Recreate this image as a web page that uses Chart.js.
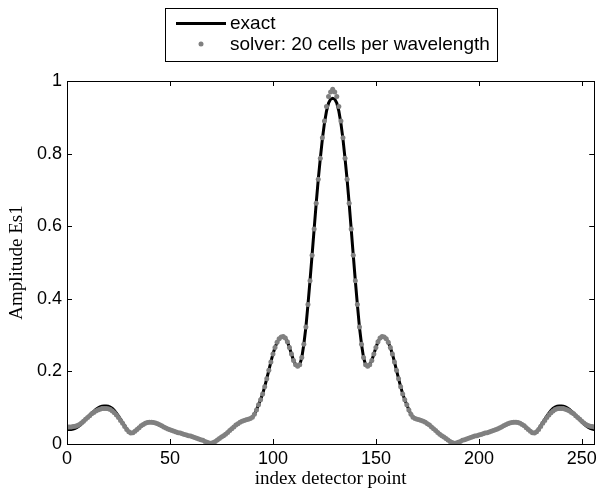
<!DOCTYPE html>
<html>
<head>
<meta charset="utf-8">
<script src="https://cdn.jsdelivr.net/npm/chart.js@4.4.1/dist/chart.umd.min.js"></script>
<style>
  html, body { margin: 0; padding: 0; background: #fff; }
  #wrap { width: 601px; height: 499px; }
</style>
</head>
<body>
<div id="wrap"><canvas id="amplitudeChart" width="601" height="499"></canvas></div>
<script>
// =============================================================================
// Amplitude Es1 along the detector line: exact vs solver (20 cells/wavelength)
// =============================================================================

// Axis ticks
const xTicks = [0, 50, 100, 150, 200, 250];
const yTicks = [0, 0.2, 0.4, 0.6, 0.8, 1];

// Solver samples, one per detector index 0..256
const solverValues = [
    .047, .047, .047, .048, .049, .051, .054, .058, .063, .068,
    .073, .078, .083, .087, .091, .094, .096, .098, .098, .098,
    .097, .095, .091, .086, .080, .073, .065, .057, .048, .040,
    .034, .030, .031, .035, .040, .045, .050, .054, .057, .059,
    .060, .060, .059, .058, .056, .053, .050, .047, .044, .041,
    .039, .037, .035, .033, .031, .030, .028, .026, .025, .023,
    .022, .020, .018, .016, .014, .012, .010, .007, .005, .003,
    .002, .004, .007, .011, .015, .019, .023, .027, .032, .037,
    .042, .047, .052, .056, .060, .063, .065, .067, .068, .070,
    .074, .082, .094, .108, .122, .138, .158, .180, .203, .226,
    .248, .266, .280, .290, .295, .296, .292, .282, .266, .248,
    .230, .218, .214, .218, .238, .275, .322, .384, .450, .520,
    .592, .663, .729, .787, .844, .890, .930, .957, .970, .977,
    .970, .957, .930, .890, .844, .787, .729, .663, .592, .520,
    .450, .384, .322, .275, .238, .218, .214, .218, .230, .248,
    .266, .282, .292, .296, .295, .290, .280, .266, .248, .226,
    .203, .180, .158, .138, .122, .108, .094, .082, .074, .070,
    .068, .067, .065, .063, .060, .056, .052, .047, .042, .037,
    .032, .027, .023, .019, .015, .011, .007, .004, .002, .003,
    .005, .007, .010, .012, .014, .016, .018, .020, .022, .023,
    .025, .026, .028, .030, .031, .033, .035, .037, .039, .041,
    .044, .047, .050, .053, .056, .058, .059, .060, .060, .059,
    .057, .054, .050, .045, .040, .035, .031, .030, .034, .040,
    .048, .057, .065, .073, .080, .086, .091, .095, .097, .098,
    .098, .098, .096, .094, .091, .087, .083, .078, .073, .068,
    .063, .058, .054, .051, .049, .048, .047
];

// Exact solution, same indices
const exactValues = [
    .040, .040, .040, .041, .043, .046, .050, .055, .061, .067,
    .073, .079, .085, .090, .095, .099, .102, .104, .105, .105,
    .104, .102, .098, .092, .085, .077, .068, .059, .050, .041,
    .034, .030, .031, .035, .040, .045, .050, .054, .057, .059,
    .060, .060, .059, .058, .056, .053, .050, .047, .044, .041,
    .039, .037, .035, .033, .031, .030, .028, .026, .025, .023,
    .022, .020, .018, .016, .014, .012, .010, .007, .005, .003,
    .002, .004, .007, .011, .015, .019, .023, .027, .032, .037,
    .042, .047, .052, .056, .060, .063, .065, .067, .068, .070,
    .074, .082, .094, .108, .122, .138, .158, .180, .203, .226,
    .248, .266, .280, .290, .295, .296, .292, .282, .266, .248,
    .230, .218, .214, .218, .238, .275, .322, .384, .450, .520,
    .592, .663, .729, .787, .840, .884, .917, .939, .950, .952,
    .950, .939, .917, .884, .840, .787, .729, .663, .592, .520,
    .450, .384, .322, .275, .238, .218, .214, .218, .230, .248,
    .266, .282, .292, .296, .295, .290, .280, .266, .248, .226,
    .203, .180, .158, .138, .122, .108, .094, .082, .074, .070,
    .068, .067, .065, .063, .060, .056, .052, .047, .042, .037,
    .032, .027, .023, .019, .015, .011, .007, .004, .002, .003,
    .005, .007, .010, .012, .014, .016, .018, .020, .022, .023,
    .025, .026, .028, .030, .031, .033, .035, .037, .039, .041,
    .044, .047, .050, .053, .056, .058, .059, .060, .060, .059,
    .057, .054, .050, .045, .040, .035, .031, .030, .034, .041,
    .050, .059, .068, .077, .085, .092, .098, .102, .104, .105,
    .105, .104, .102, .099, .095, .090, .085, .079, .073, .067,
    .061, .055, .050, .046, .043, .041, .040
];

const seriesLabels = ['exact', 'solver: 20 cells per wavelength'];

const SANS = '"Liberation Sans", Arial, Helvetica, sans-serif';
const SERIF = '"Liberation Serif", "Times New Roman", serif';
const GREY = '#808080';

// Box around the plot with inward tick marks on all four sides (MATLAB look)
const frameTicks = {
    id: 'frameTicks',
    afterDatasetsDraw(chart) {
        const { ctx, chartArea: a, scales } = chart;
        const len = 5;
        ctx.save();
        ctx.strokeStyle = '#000';
        ctx.lineWidth = 1;
        ctx.beginPath();
        xTicks.forEach(v => {
            const px = Math.round(scales.x.getPixelForValue(v)) + 0.5;
            ctx.moveTo(px, a.bottom); ctx.lineTo(px, a.bottom - len);
            ctx.moveTo(px, a.top); ctx.lineTo(px, a.top + len);
        });
        yTicks.forEach(v => {
            const py = Math.round(scales.y.getPixelForValue(v)) + 0.5;
            ctx.moveTo(a.left, py); ctx.lineTo(a.left + len, py);
            ctx.moveTo(a.right, py); ctx.lineTo(a.right - len, py);
        });
        ctx.stroke();
        ctx.strokeRect(Math.round(a.left) + 0.5, Math.round(a.top) + 0.5,
            Math.round(a.right - a.left), Math.round(a.bottom - a.top));
        ctx.restore();
    }
};

// Legend box above the axes
const boxLegend = {
    id: 'boxLegend',
    afterDraw(chart) {
        const ctx = chart.ctx;
        ctx.save();
        ctx.fillStyle = '#fff';
        ctx.fillRect(165, 8, 333, 54);
        ctx.strokeStyle = '#000';
        ctx.lineWidth = 1;
        ctx.strokeRect(165.5, 8.5, 332, 53);

        ctx.beginPath();
        ctx.lineWidth = 3;
        ctx.moveTo(176, 23.5);
        ctx.lineTo(226, 23.5);
        ctx.stroke();

        ctx.fillStyle = GREY;
        ctx.beginPath();
        ctx.arc(201, 44, 2.5, 0, Math.PI * 2);
        ctx.fill();

        ctx.fillStyle = '#000';
        ctx.font = '19px ' + SANS;
        ctx.textBaseline = 'middle';
        ctx.textAlign = 'left';
        ctx.fillText(seriesLabels[0], 230, 24);
        ctx.fillText(seriesLabels[1], 230, 45);
        ctx.restore();
    }
};

function toPoints(values) {
    return values.map((v, i) => ({ x: i, y: v }));
}

new Chart(document.getElementById('amplitudeChart'), {
    type: 'line',
    data: {
        datasets: [
            {
                label: seriesLabels[0],
                data: toPoints(exactValues),
                borderColor: '#000',
                borderWidth: 3,
                pointRadius: 0,
                tension: 0,
                order: 2
            },
            {
                label: seriesLabels[1],
                data: toPoints(solverValues),
                showLine: false,
                pointRadius: 2.5,
                pointBorderWidth: 0,
                pointBackgroundColor: GREY,
                pointBorderColor: GREY,
                order: 1
            }
        ]
    },
    options: {
        responsive: false,
        animation: false,
        events: [],
        layout: { padding: { top: 81, right: 5, left: 0, bottom: 0 } },
        plugins: {
            legend: { display: false },
            tooltip: { enabled: false }
        },
        scales: {
            x: {
                type: 'linear',
                min: 0,
                max: 256,
                afterFit: s => { s.height = 55; },
                afterBuildTicks: s => { s.ticks = xTicks.map(v => ({ value: v })); },
                grid: { display: false, drawTicks: false, tickLength: 0 },
                border: { display: false },
                ticks: {
                    color: '#000',
                    padding: 4,
                    maxRotation: 0,
                    font: { family: SANS, size: 18 }
                },
                title: {
                    display: true,
                    text: 'index detector point',
                    color: '#000',
                    font: { family: SERIF, size: 19 },
                    padding: { top: 0, bottom: 9 }
                }
            },
            y: {
                min: 0,
                max: 1,
                afterFit: s => { s.width = 67; },
                afterBuildTicks: s => { s.ticks = yTicks.map(v => ({ value: v })); },
                grid: { display: false, drawTicks: false, tickLength: 0 },
                border: { display: false },
                ticks: {
                    color: '#000',
                    padding: 5,
                    font: { family: SANS, size: 18 },
                    callback: v => String(v)
                },
                title: {
                    display: true,
                    text: 'Amplitude Es1',
                    color: '#000',
                    font: { family: SERIF, size: 19 },
                    padding: { top: 6, bottom: 0 }
                }
            }
        }
    },
    plugins: [frameTicks, boxLegend]
});
</script>
</body>
</html>
